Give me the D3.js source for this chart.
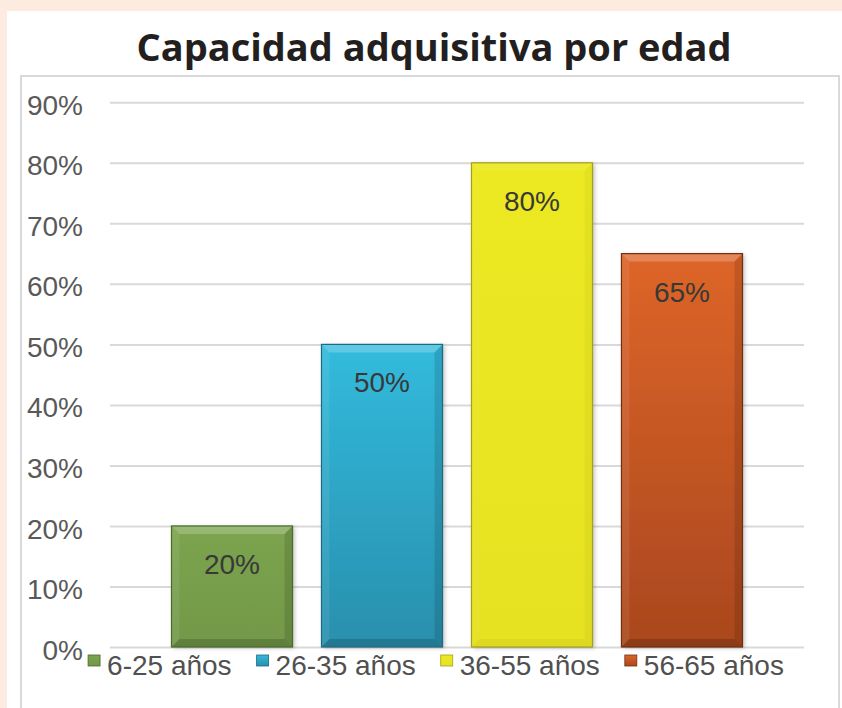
<!DOCTYPE html>
<html>
<head>
<meta charset="utf-8">
<script src="https://cdn.jsdelivr.net/npm/d3@7"></script>
<style>
  body { margin: 0; background: #fdebdf; }
  svg { display: block; }
</style>
</head>
<body>
<div class="vis"></div>
<script>
var categories = ["6-25 años", "26-35 años", "36-55 años", "56-65 años"];
var values = [0.20, 0.50, 0.80, 0.65];
var yTicks = [0, 0.1, 0.2, 0.3, 0.4, 0.5, 0.6, 0.7, 0.8, 0.9];
var title = "Capacidad adquisitiva por edad";

var colors = [
  { top: "#7ca44e", bottom: "#729848", line: "#4c6a2a" },
  { top: "#31bbdd", bottom: "#2a8fad", line: "#1d6a82" },
  { top: "#ece923", bottom: "#e6e223", line: "#a3a01c" },
  { top: "#de6529", bottom: "#a9471e", line: "#70300f" }
];

var w = 842,
    h = 708,
    plotLeft = 110,
    plotRight = 804,
    plotBottom = 647,
    plotTop = 102.3,
    bevel = 8;

var vis = d3.select(".vis").append("svg")
    .attr("width", w)
    .attr("height", h);

/* peach frame and white panel */
vis.append("rect").attr("width", w).attr("height", h).attr("fill", "#fdebdf");
vis.append("rect").attr("x", 7).attr("y", 11).attr("width", w - 7).attr("height", h).attr("fill", "#fff");
vis.append("rect")
    .attr("x", 21).attr("y", 76)
    .attr("width", 818).attr("height", 700)
    .attr("fill", "none").attr("stroke", "#d9d9d9").attr("stroke-width", 2);

vis.append("text")
    .attr("x", 434)
    .attr("y", 61)
    .attr("text-anchor", "middle")
    .style("font-family", "'Open Sans', sans-serif")
    .style("font-weight", 700)
    .style("font-size", "38px")
    .attr("fill", "#231f20")
    .text(title);

var xScale = d3.scaleBand()
    .domain(categories)
    .range([plotLeft, plotRight])
    .paddingInner(0.193)
    .paddingOuter(0.41);

var yScale = d3.scaleLinear()
    .domain([0, 0.9])
    .range([plotBottom, plotTop]);

/* gridlines + tick labels */
var yAxis = vis.append("g")
    .attr("transform", "translate(" + plotLeft + ",0)")
    .call(d3.axisLeft(yScale)
      .tickValues(yTicks)
      .tickFormat(d3.format(".0%"))
      .tickSizeInner(-(plotRight - plotLeft))
      .tickSizeOuter(0)
      .tickPadding(27));

yAxis.select(".domain").remove();
yAxis.selectAll(".tick line").attr("stroke", "#d9d9d9").attr("stroke-width", 2);
yAxis.selectAll(".tick text")
    .attr("dy", "0.43em")
    .attr("fill", "#595959")
    .style("font-family", "'Liberation Sans', Arial, sans-serif")
    .style("font-size", "28px");

/* gradients */
var defs = vis.append("defs");
colors.forEach(function(c, i) {
  var g = defs.append("linearGradient")
      .attr("id", "grad" + i)
      .attr("x1", 0).attr("y1", 0).attr("x2", 0).attr("y2", 1);
  g.append("stop").attr("offset", "0%").attr("stop-color", c.top);
  g.append("stop").attr("offset", "100%").attr("stop-color", c.bottom);
});
defs.append("filter").attr("id", "shadow")
    .attr("x", "-10%").attr("y", "-10%").attr("width", "130%").attr("height", "130%")
  .append("feDropShadow")
    .attr("dx", 2).attr("dy", 1).attr("stdDeviation", 2)
    .attr("flood-color", "#000").attr("flood-opacity", 0.25);

/* bars */
var bar = vis.selectAll("g.bar")
    .data(values)
  .enter().append("g")
    .attr("class", "bar")
    .attr("transform", function(d, i) {
      return "translate(" + xScale(categories[i]) + "," + yScale(d) + ")";
    });

var bw = xScale.bandwidth();

bar.append("rect")
    .attr("width", bw)
    .attr("height", function(d) { return plotBottom - yScale(d); })
    .attr("fill", function(d, i) { return "url(#grad" + i + ")"; })
    .attr("filter", "url(#shadow)");

/* bevel faces */
function face(pts) { return pts.map(function(p) { return p.join(","); }).join(" "); }

bar.append("polygon")
    .attr("points", function() { return face([[0,0],[bw,0],[bw-bevel,bevel],[bevel,bevel]]); })
    .attr("fill", "#fff").attr("fill-opacity", function(d, i) { return i == 2 ? 0.08 : 0.22; });
bar.append("polygon")
    .attr("points", function(d) { var bh = plotBottom - yScale(d); return face([[0,0],[bevel,bevel],[bevel,bh-bevel],[0,bh]]); })
    .attr("fill", "#fff").attr("fill-opacity", function(d, i) { return i == 2 ? 0.03 : 0.08; });
bar.append("polygon")
    .attr("points", function(d) { var bh = plotBottom - yScale(d); return face([[bw,0],[bw,bh],[bw-bevel,bh-bevel],[bw-bevel,bevel]]); })
    .attr("fill", "#000").attr("fill-opacity", function(d, i) { return i == 2 ? 0.03 : 0.12; });
bar.append("polygon")
    .attr("points", function(d) { var bh = plotBottom - yScale(d); return face([[0,bh],[bevel,bh-bevel],[bw-bevel,bh-bevel],[bw,bh]]); })
    .attr("fill", "#000").attr("fill-opacity", function(d, i) { return i == 2 ? 0.04 : 0.16; });

bar.append("rect")
    .attr("width", bw)
    .attr("height", function(d) { return plotBottom - yScale(d); })
    .attr("fill", "none")
    .attr("stroke", function(d, i) { return colors[i].line; })
    .attr("stroke-width", 1.2);

bar.append("text")
    .attr("x", bw / 2)
    .attr("y", 48)
    .attr("text-anchor", "middle")
    .attr("fill", "#383838")
    .style("font-family", "'Liberation Sans', Arial, sans-serif")
    .style("font-size", "28px")
    .text(function(d) { return d3.format(".0%")(d); });

/* legend */
var legend = vis.append("g").attr("class", "legend");
var item = legend.selectAll("g")
    .data(categories)
  .enter().append("g");

item.append("rect")
    .attr("y", 655)
    .attr("width", 12)
    .attr("height", 11)
    .attr("fill", function(d, i) { return "url(#grad" + i + ")"; })
    .attr("stroke", function(d, i) { return colors[i].line; })
    .attr("stroke-width", 0.8);

item.append("text")
    .attr("x", 19)
    .attr("y", 675)
    .attr("fill", "#505050")
    .style("font-family", "'Liberation Sans', Arial, sans-serif")
    .style("font-size", "28px")
    .text(function(d) { return d; });

var pos = 0;
item.each(function() {
  var g = d3.select(this);
  g.attr("transform", "translate(" + pos + ",0)");
  pos += 19 + g.select("text").node().getComputedTextLength() + 25;
});
var legendWidth = pos - 25;
legend.attr("transform", "translate(" + (436 - legendWidth / 2) + ",0)");
</script>
</body>
</html>
